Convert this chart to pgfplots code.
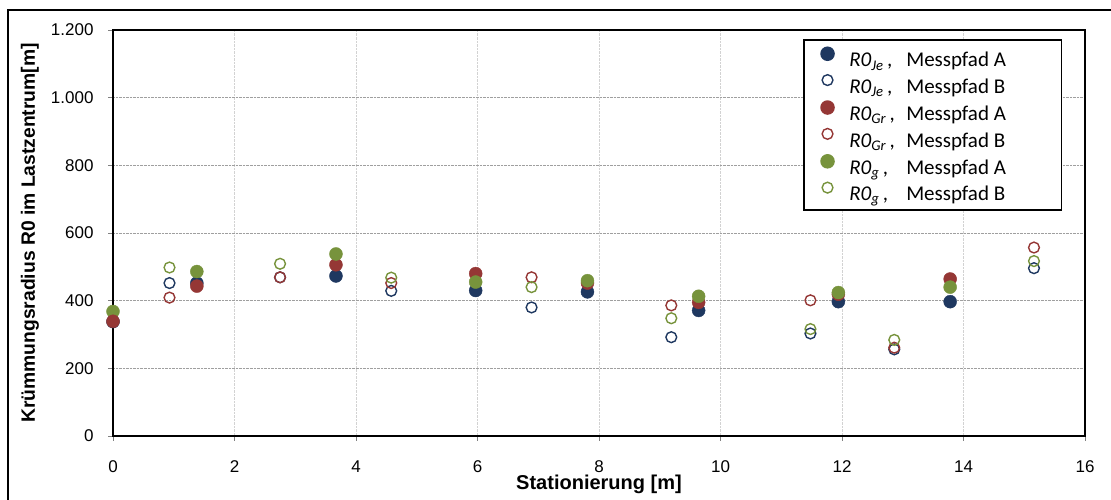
\documentclass[border=0pt]{standalone}
\usepackage{fontspec}
\setmainfont{Liberation Sans}
\newfontfamily\legendfont{Carlito}
\usepackage{pgfplots}
\pgfplotsset{compat=1.18}
\definecolor{cBlue}{RGB}{31,56,96}
\definecolor{cRed}{RGB}{149,55,53}
\definecolor{cGreen}{RGB}{119,147,60}
\newcommand{\lent}[2]{\legendfont\fontsize{21bp}{23bp}\selectfont\rule[-5bp]{0pt}{17bp}\makebox[57bp][l]{\itshape R0\textsubscript{#1}\upshape\,,}\makebox[155bp][l]{Messpfad #2}}
\begin{document}
\begin{tikzpicture}[x=1bp,y=1bp]
\useasboundingbox (0,0) rectangle (1111,500);
\draw[line width=2bp] (8,-10) -- (8,490) -- (1120,490);
\begin{axis}[
  at={(113bp,64bp)}, anchor=south west,
  width=972bp, height=406bp, scale only axis,
  clip=false,
  xmin=0, xmax=16, ymin=0, ymax=1200,
  xtick={0,2,...,16}, xticklabels={0,2,4,6,8,10,12,14,16},
  ytick={0,200,...,1200}, yticklabels={0,200,400,600,800,1.000,1.200},
  tick align=outside, major tick length=5bp,
  xtick pos=bottom, ytick pos=left,
  tick style={gray, line width=0.8bp},
  axis line style={black, line width=1.8bp},
  ymajorgrids, xmajorgrids,
  y grid style={densely dotted, gray!75, line width=0.8bp},
  x grid style={densely dotted, gray!35, line width=0.8bp},
  ticklabel style={font=\fontsize{17bp}{18bp}\selectfont},
  xticklabel style={yshift=-16bp},
  yticklabel style={xshift=-11bp},
  xlabel={Stationierung [m]},
  ylabel={Krümmungsradius R0 im Lastzentrum[m]},
  xlabel style={at={(axis description cs:0.5,0)}, anchor=center, yshift=-48.5bp, font=\bfseries\fontsize{20bp}{22bp}\selectfont},
  ylabel style={at={(axis description cs:-0.0854,0.5)}, anchor=center, font=\bfseries\fontsize{19.3bp}{21bp}\selectfont},
  legend style={at={(rel axis cs:0.7099,0.9778)}, anchor=north west,
    draw=black, line width=1.5bp, inner xsep=0pt, inner ysep=7.5bp,
    row sep=6.2bp, column sep=0pt,
    nodes={inner sep=0pt}},
  legend cell align=left,
  legend image code/.code={\draw[#1] plot coordinates {(0,6.7bp)}; \path (-23bp,0) (21bp,0);},
]
\addplot[only marks, mark=*, mark size=6.5bp, draw=cBlue, fill=cBlue] coordinates {
(0,338) (1.38,452) (3.67,473) (5.97,430) (7.81,426) (9.64,371) (11.94,397) (13.78,397)};
\addlegendentry{\lent{Je}{A}}
\addplot[only marks, mark=o, mark size=5.4bp, draw=cBlue, line width=1.4bp] coordinates {
(0.93,452) (2.75,469) (4.58,429) (6.89,380) (9.19,292) (11.48,303) (12.86,256) (15.16,496)};
\addlegendentry{\lent{Je}{B}}
\addplot[forget plot, only marks, mark=*, mark size=6.5bp, draw=cGreen, fill=cGreen] coordinates {(0,368)};
\addplot[only marks, mark=*, mark size=6.5bp, draw=cRed, fill=cRed] coordinates {
(0,339) (1.38,443) (3.67,506) (5.97,480) (7.81,452) (9.64,395) (11.94,419) (13.78,464)};
\addlegendentry{\lent{Gr}{A}}
\addplot[only marks, mark=o, mark size=5.4bp, draw=cRed, line width=1.4bp] coordinates {
(0.93,409) (2.75,469) (4.58,452) (6.89,469) (9.19,386) (11.48,401) (12.86,261) (15.16,557)};
\addlegendentry{\lent{Gr}{B}}
\addplot[only marks, mark=*, mark size=6.5bp, draw=cGreen, fill=cGreen] coordinates {
(1.38,486) (3.67,538) (5.97,455) (7.81,459) (9.64,413) (11.94,424) (13.78,440)};
\addlegendentry{\lent{g}{A}}
\addplot[only marks, mark=o, mark size=5.4bp, draw=cGreen, line width=1.4bp] coordinates {
(0.93,498) (2.75,509) (4.58,468) (6.89,440) (9.19,348) (11.48,316) (12.86,284) (15.16,517)};
\addlegendentry{\lent{g}{B}}
\end{axis}
\end{tikzpicture}
\end{document}
